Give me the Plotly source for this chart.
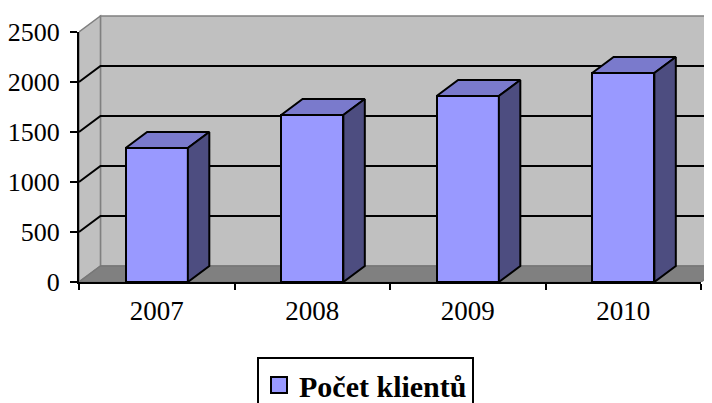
import plotly.graph_objects as go

years = ["2007", "2008", "2009", "2010"]
clients = [1340, 1670, 1860, 2090]
y_ticks = [0, 500, 1000, 1500, 2000, 2500]
series_name = "Počet klientů"

FRONT = "#9999FF"
TOP = "#7A7ACC"
SIDE = "#4D4D80"
WALL = "#C0C0C0"
FLOOR = "#808080"
EDGE = "#808080"
FONT = "Liberation Serif"

n = len(years)
xs = list(range(n))
x_lo, x_hi = -0.5, n - 0.5
y_max = y_ticks[-1]
dx, dy = 0.138, 160      # depth offset in data units
bw = 0.4                 # bar width (categories)

OFF = 8                  # page body margin
W, H = 712 - OFF, 403 - OFF
ml, mr, mt = 79 - OFF, 0, 10 - OFF
plot_h = 272
mb = H - mt - plot_h
plot_w = W - ml - mr
px_per_cat = 155.5
y_top = 2720
x_right = x_lo + plot_w / px_per_cat

fig = go.Figure()

shapes = []
shapes.append(dict(type="rect", xref="x", yref="y", x0=x_lo + dx, x1=x_hi + dx,
                   y0=dy, y1=y_max + dy, fillcolor=WALL, line=dict(color=EDGE, width=1.5),
                   layer="below"))
shapes.append(dict(type="path", xref="x", yref="y",
                   path=f"M{x_lo},0 L{x_lo+dx},{dy} L{x_lo+dx},{y_max+dy} L{x_lo},{y_max} Z",
                   fillcolor=WALL, line=dict(color=EDGE, width=1.5), layer="below"))
shapes.append(dict(type="path", xref="x", yref="y",
                   path=f"M{x_lo},0 L{x_hi},0 L{x_hi+dx},{dy} L{x_lo+dx},{dy} Z",
                   fillcolor=FLOOR, line=dict(color="#777777", width=1.5), layer="below"))
for v in y_ticks[1:-1]:
    shapes.append(dict(type="path", xref="x", yref="y",
                       path=f"M{x_lo},{v} L{x_lo+dx},{v+dy} L{x_hi+dx},{v+dy}",
                       line=dict(color="black", width=2), layer="below"))

fig.add_trace(go.Bar(x=xs, y=clients, width=bw, marker=dict(color=FRONT, line=dict(color="black", width=2)),
                     showlegend=False, hoverinfo="skip"))

for i, v in zip(xs, clients):
    l, r = i - bw / 2, i + bw / 2
    fig.add_trace(go.Scatter(x=[l, l + dx, r + dx, r, l], y=[v, v + dy, v + dy, v, v],
                             mode="lines", fill="toself", fillcolor=TOP,
                             line=dict(color="black", width=2), showlegend=False, hoverinfo="skip"))
    fig.add_trace(go.Scatter(x=[r, r + dx, r + dx, r, r], y=[0, dy, v + dy, v, 0],
                             mode="lines", fill="toself", fillcolor=SIDE,
                             line=dict(color="black", width=2), showlegend=False, hoverinfo="skip"))

fig.add_trace(go.Scatter(x=[None], y=[None], mode="markers", name=series_name,
                         marker=dict(symbol="square", size=16, color=FRONT, line=dict(color="black", width=2)),
                         xaxis="x2", yaxis="y2"))

fig.update_layout(
    width=W, height=H,
    margin=dict(l=ml, r=mr, t=mt, b=mb, autoexpand=False),
    paper_bgcolor="white", plot_bgcolor="rgba(0,0,0,0)",
    shapes=shapes,
    bargap=0,
    xaxis=dict(range=[x_lo, x_right], domain=[0, 1], visible=False, fixedrange=True),
    yaxis=dict(range=[0, y_top], domain=[0, 1], visible=False, fixedrange=True),
    xaxis2=dict(range=[x_lo, x_hi], domain=[0, (x_hi - x_lo) * px_per_cat / plot_w], anchor="y2",
                showline=True, linecolor="black", linewidth=2, showgrid=False, zeroline=False,
                tickmode="array", tickvals=xs, ticktext=years, ticks="",
                minor=dict(tickmode="array", tickvals=[x + 0.5 for x in [x_lo - 0.5] + xs],
                           ticks="outside", ticklen=6, tickwidth=1.5, tickcolor="black", showgrid=False),
                tickfont=dict(family=FONT, size=27, color="black"), ticklabelstandoff=4,
                fixedrange=True),
    yaxis2=dict(range=[0, y_max], domain=[0, y_max / y_top], anchor="x2",
                showline=True, linecolor="black", linewidth=2, showgrid=False, zeroline=False,
                tickmode="array", tickvals=y_ticks, ticks="outside", ticklen=7, tickwidth=1.5,
                tickcolor="black", tickfont=dict(family=FONT, size=26, color="black"),
                ticklabelstandoff=5, fixedrange=True),
    legend=dict(x=(257 - OFF - ml) / plot_w, y=(mt + plot_h - (357 - OFF)) / plot_h,
                xanchor="left", yanchor="top",
                bordercolor="black", borderwidth=2, bgcolor="white",
                font=dict(family=FONT, size=30, color="black", weight="bold")),
    showlegend=True,
)

fig.write_html("out.html")
